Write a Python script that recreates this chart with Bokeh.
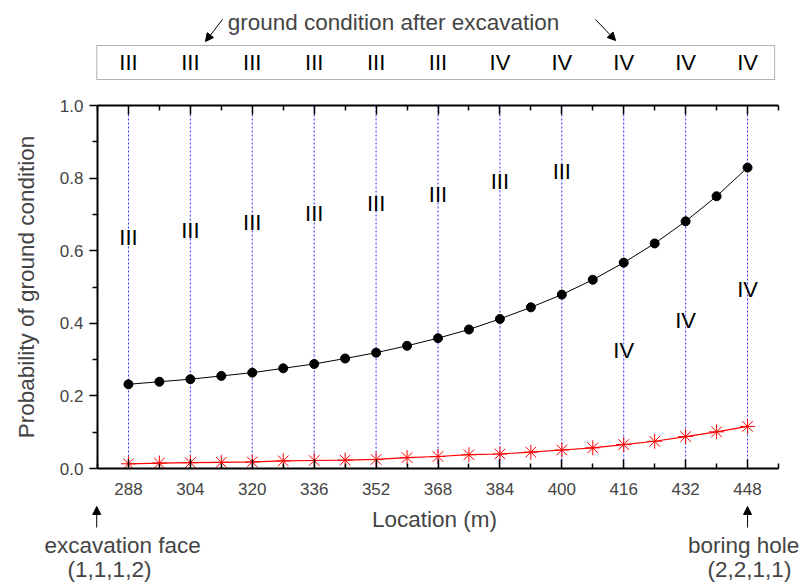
from bokeh.plotting import figure
from bokeh.layouts import column
from bokeh.models import (LinearAxis, FixedTicker, PrintfTickFormatter, Range1d, Label,
                          Arrow, NormalHead, BoxAnnotation)
from bokeh.core.properties import value
from bokeh.embed import file_html
from bokeh.resources import INLINE

# ---- data ----
location = [288, 296, 304, 312, 320, 328, 336, 344, 352, 360, 368,
            376, 384, 392, 400, 408, 416, 424, 432, 440, 448]
prob_black = [0.232, 0.239, 0.246, 0.255, 0.264, 0.276, 0.288, 0.303, 0.319, 0.338, 0.359,
              0.383, 0.412, 0.444, 0.479, 0.520, 0.567, 0.620, 0.681, 0.750, 0.829]
prob_red = [0.013, 0.015, 0.016, 0.017, 0.018, 0.021, 0.022, 0.023, 0.025, 0.030, 0.033,
            0.038, 0.040, 0.045, 0.051, 0.057, 0.066, 0.075, 0.088, 0.101, 0.116]

major_locs = [288, 304, 320, 336, 352, 368, 384, 400, 416, 432, 448]
minor_locs = [280, 296, 312, 328, 344, 360, 376, 392, 408, 424, 440, 456]
after_cond = ["III", "III", "III", "III", "III", "III", "IV", "IV", "IV", "IV", "IV"]
pred_cond = ["III", "III", "III", "III", "III", "III", "III", "III", "IV", "IV", "IV"]
pred_cond_prob = [0.637, 0.655, 0.678, 0.703, 0.730, 0.756, 0.791, 0.819, 0.324, 0.407, 0.494]
y_ticks = [0.0, 0.2, 0.4, 0.6, 0.8, 1.0]
y_minor = [0.1, 0.3, 0.5, 0.7, 0.9]

FONT = "Liberation Sans"
W = 805
X0, X1 = 280, 456
LEFT, RIGHT = 97, 27
PX_PER_UNIT = (W - LEFT - RIGHT) / (X1 - X0)
# x range for full-width strips so that locations line up with the main plot
XS = X0 - LEFT / PX_PER_UNIT
XE = X1 + RIGHT / PX_PER_UNIT


def strip(height, ytop, ybot):
    f = figure(width=W, height=height, x_range=Range1d(XS, XE), y_range=Range1d(ybot, ytop),
               output_backend="svg", toolbar_location=None, title=None,
               x_axis_location=None, y_axis_location=None, frame_align=False,
               min_border_left=0, min_border_right=0, min_border_top=0, min_border_bottom=0)
    f.outline_line_color = None
    f.grid.visible = False
    return f


head = dict(size=8, fill_color="black", line_color="black")

# ---- top strip: ground condition after excavation ----
top_fig = strip(97, 0, 97)
top_fig.add_layout(BoxAnnotation(left=279.8, right=455.0, top=45, bottom=79,
                                 fill_alpha=0, line_color="black", line_width=1))
top_fig.text(x=major_locs, y=62, text=after_cond, text_align="center", text_baseline="middle",
             text_font=value(FONT), text_font_size="22px", text_color="black")
top_fig.add_layout(Label(x=356.5, y=22, text="ground condition after excavation",
                         text_align="center", text_baseline="middle", text_font=FONT,
                         text_font_size="22.5px"))
top_fig.add_layout(Arrow(end=NormalHead(**head), x_start=312.3, y_start=19,
                         x_end=307.9, y_end=41, line_width=1))
top_fig.add_layout(Arrow(end=NormalHead(**head), x_start=408.7, y_start=19,
                         x_end=413.9, y_end=40, line_width=1))

# ---- main plot ----
p = figure(width=W, height=408, x_range=Range1d(X0, X1), y_range=Range1d(0, 1),
           output_backend="svg", toolbar_location=None, title=None, frame_align=False,
           min_border_left=LEFT, min_border_right=RIGHT, min_border_top=8, min_border_bottom=37)
p.outline_line_color = None
p.grid.visible = False

# vertical dotted guide lines at major locations
p.segment(x0=major_locs, y0=0, x1=major_locs, y1=1, line_color="#2a2aff",
          line_dash="2 2", line_width=1)

xa = p.xaxis[0]
xa.ticker = FixedTicker(ticks=major_locs, minor_ticks=minor_locs)
xa.major_tick_in = 9
xa.major_tick_out = 0
xa.minor_tick_in = 5
xa.minor_tick_out = 0
xa.axis_line_width = 2
xa.major_tick_line_width = 1.5
xa.minor_tick_line_width = 1.5
xa.major_label_text_font = FONT
xa.major_label_text_font_size = "17px"
xa.major_label_standoff = 14

ya = p.yaxis[0]
ya.ticker = FixedTicker(ticks=y_ticks, minor_ticks=y_minor)
ya.formatter = PrintfTickFormatter(format="%.1f")
ya.major_tick_in = 0
ya.major_tick_out = 8
ya.minor_tick_in = 0
ya.minor_tick_out = 5
ya.axis_line_width = 2
ya.major_tick_line_width = 1.5
ya.minor_tick_line_width = 1.5
ya.major_label_text_font = FONT
ya.major_label_text_font_size = "17px"
ya.major_label_standoff = 6
ya.axis_label = "Probability of ground condition"
ya.axis_label_text_font = FONT
ya.axis_label_text_font_size = "22.5px"
ya.axis_label_text_font_style = "normal"
ya.axis_label_standoff = 18

top_axis = LinearAxis(ticker=FixedTicker(ticks=major_locs, minor_ticks=minor_locs),
                      major_tick_in=9, major_tick_out=0, minor_tick_in=5, minor_tick_out=0,
                      axis_line_width=2, major_tick_line_width=1.5, minor_tick_line_width=1.5,
                      major_label_text_alpha=0, major_label_text_font_size="1px",
                      major_label_standoff=0)
p.add_layout(top_axis, "above")

p.line(location, prob_black, line_color="black", line_width=1)
p.scatter(location, prob_black, marker="circle", size=9, fill_color="black", line_color="black")
p.line(location, prob_red, line_color="red", line_width=1.2)
p.scatter(location, prob_red, marker="asterisk", size=15, line_color="red", line_width=1)

p.text(x=major_locs, y=pred_cond_prob, text=pred_cond, text_align="center",
       text_baseline="middle", text_font=value(FONT), text_font_size="22px", text_color="black")

# ---- bottom strip ----
bot_fig = strip(81, 505, 586)
bot_fig.add_layout(Label(x=367.9, y=519, text="Location  (m)", text_align="center",
                         text_baseline="middle", text_font=FONT, text_font_size="22.5px"))
bot_fig.add_layout(Arrow(end=NormalHead(**head), x_start=279.8, y_start=527,
                         x_end=279.8, y_end=506, line_width=1))
bot_fig.add_layout(Arrow(end=NormalHead(**head), x_start=448.0, y_start=527,
                         x_end=448.0, y_end=506, line_width=1))
for x, y, t in [(286.5, 545, "excavation face"), (283.1, 569, "(1,1,1,2)"),
                (447.0, 545, "boring hole"), (448.5, 569, "(2,2,1,1)")]:
    bot_fig.add_layout(Label(x=x, y=y, text=t, text_align="center", text_baseline="middle",
                             text_font=FONT, text_font_size="22.5px"))

layout = column(top_fig, p, bot_fig, spacing=0)
open("out.html", "w").write(file_html(layout, INLINE))
